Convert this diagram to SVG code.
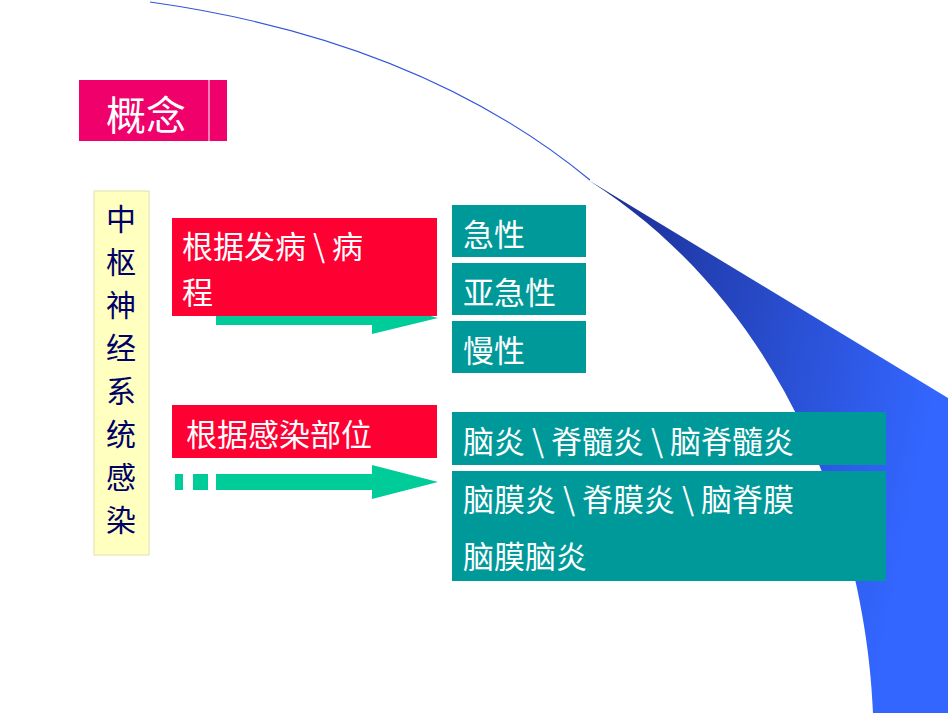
<svg xmlns="http://www.w3.org/2000/svg" width="950" height="713" viewBox="0 0 950 713">
<defs>
<linearGradient id="bg" x1="0" y1="0" x2="1" y2="0.3"><stop offset="0" stop-color="#1a2a8a"/><stop offset="1" stop-color="#3366ff"/></linearGradient>
<style>
.t{font-family:"Noto Sans CJK SC",sans-serif;fill:#fff;font-size:31px}
.teal{fill:#009999}
.red{fill:#ff0033}
</style>
</defs>
<rect width="950" height="713" fill="#fff"/>
<path d="M150,2 Q420,40 590,180" fill="none" stroke="#3355dd" stroke-width="1.2"/>
<path d="M575,172 L948,398 L948,713 L873,713 C866,540 790,300 575,172 Z" fill="url(#bg)"/>
<g id="connectors">
<rect x="216" y="311" width="160" height="14" fill="#00cc99"/>
<polygon points="372,300 438,318 372,334" fill="#00cc99"/>
<rect x="175" y="474" width="8" height="16" fill="#00cc99"/>
<rect x="193" y="474" width="15" height="16" fill="#00cc99"/>
<rect x="216" y="474" width="157" height="16" fill="#00cc99"/>
<polygon points="372,465 438,482 372,499" fill="#00cc99"/>
</g>
<g id="title"><rect x="79" y="80" width="148" height="61" fill="#f0006a"/><line x1="209" y1="80" x2="209" y2="141" stroke="#fff" stroke-width="1"/><text class="t" x="106" y="130" font-size="40" style="font-size:40px">概念</text></g>
<g id="root"><rect x="94" y="191" width="55" height="364" fill="#ffffc0" stroke="#e0e0b0"/>
<text x="121" y="230" style="font-family:'Noto Sans CJK SC',sans-serif;font-size:30px;fill:#000066" text-anchor="middle"><tspan x="121">中</tspan><tspan x="121" dy="43">枢</tspan><tspan x="121" dy="43">神</tspan><tspan x="121" dy="43">经</tspan><tspan x="121" dy="43">系</tspan><tspan x="121" dy="43">统</tspan><tspan x="121" dy="43">感</tspan><tspan x="121" dy="43">染</tspan></text></g>
<g id="course"><rect class="red" x="172" y="218" width="265" height="98"/><text class="t" x="182" y="258">根据发病 \ 病</text><text class="t" x="182" y="304">程</text></g>
<g id="site"><rect class="red" x="172" y="405" width="265" height="53"/><text class="t" x="186" y="446">根据感染部位</text></g>
<g id="acute"><rect class="teal" x="452" y="205" width="134" height="52"/><text class="t" x="463" y="246">急性</text></g>
<g id="subacute"><rect class="teal" x="452" y="263" width="134" height="52"/><text class="t" x="463" y="304">亚急性</text></g>
<g id="chronic"><rect class="teal" x="452" y="321" width="134" height="52"/><text class="t" x="463" y="362">慢性</text></g>
<g id="brain"><rect class="teal" x="452" y="412" width="434" height="53"/><text class="t" x="463" y="453">脑炎 \ 脊髓炎 \ 脑脊髓炎</text></g>
<g id="meninges"><rect class="teal" x="452" y="471" width="434" height="110"/><text class="t" x="463" y="511">脑膜炎 \ 脊膜炎 \ 脑脊膜</text><text class="t" x="463" y="568">脑膜脑炎</text></g>
</svg>
